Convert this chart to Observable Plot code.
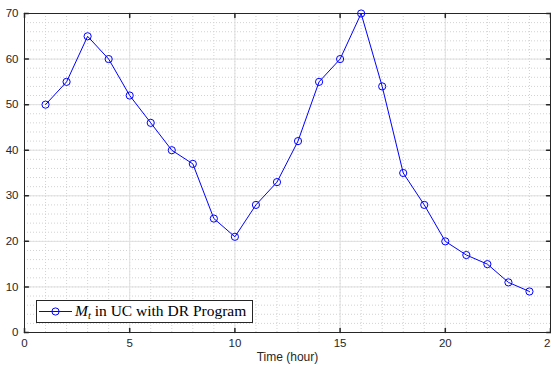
<!DOCTYPE html>
<html>
<head>
<meta charset="utf-8">
<script src="https://cdn.jsdelivr.net/npm/d3@7"></script>
<script src="https://cdn.jsdelivr.net/npm/@observablehq/plot@0.6"></script>
<style>
  html, body { margin: 0; padding: 0; background: white; overflow: hidden; }
  #chart { position: relative; width: 551px; height: 367px; }
</style>
</head>
<body>
<div id="chart"></div>
<script>
const hours = [1,2,3,4,5,6,7,8,9,10,11,12,13,14,15,16,17,18,19,20,21,22,23,24];
const mValues = [50,55,65,60,52,46,40,37,25,21,28,33,42,55,60,70,54,35,28,20,17,15,11,9];
const xTicks = [0,5,10,15,20,25];
const yTicks = [0,10,20,30,40,50,60,70];
const xMinor = d3.range(0, 26, 1);
const yMinor = d3.range(0, 71, 2);
const xLabel = "Time (hour)";
const legendRest = " in UC with DR Program";

const data = hours.map((h, i) => ({h, m: mValues[i]}));
const dark = "#262626";
const blue = "#0000ff";
const tickShape = {draw(ctx, l) { ctx.moveTo(0, 0); ctx.lineTo(0, -l); }};

const plot = Plot.plot({
  width: 551,
  height: 367,
  marginLeft: 24,
  marginRight: 1,
  marginTop: 13,
  marginBottom: 35,
  style: {fontFamily: "'Liberation Sans', Arial, sans-serif", fontSize: "11px", color: dark, background: "white"},
  x: {domain: [0, 25]},
  y: {domain: [0, 70]},
  marks: [
    Plot.gridX(xMinor, {stroke: "#d2d2d2", strokeOpacity: 1, strokeDasharray: "1,2"}),
    Plot.gridY(yMinor, {stroke: "#d2d2d2", strokeOpacity: 1, strokeDasharray: "1,2"}),
    Plot.gridX(xTicks, {stroke: "#e0e0e0", strokeOpacity: 1}),
    Plot.gridY(yTicks, {stroke: "#e0e0e0", strokeOpacity: 1}),
    Plot.frame({stroke: dark}),
    Plot.vector(xTicks, {x: d => d, frameAnchor: "bottom", length: 4, anchor: "start", rotate: 0, shape: tickShape, stroke: dark}),
    Plot.vector(xTicks, {x: d => d, frameAnchor: "top", length: 4, anchor: "start", rotate: 180, shape: tickShape, stroke: dark}),
    Plot.vector(yTicks, {y: d => d, frameAnchor: "left", length: 4, anchor: "start", rotate: 90, shape: tickShape, stroke: dark}),
    Plot.vector(yTicks, {y: d => d, frameAnchor: "right", length: 4, anchor: "start", rotate: -90, shape: tickShape, stroke: dark}),
    Plot.axisX(xTicks, {tickSize: 0, tickPadding: 6, label: null, fill: dark, fontSize: 11.5}),
    Plot.axisX({tickSize: 0, ticks: [], label: xLabel, labelAnchor: "center", labelArrow: "none", labelOffset: 28, fill: dark, fontSize: 12}),
    Plot.axisY(yTicks, {tickSize: 0, tickPadding: 6, label: null, fill: dark, fontSize: 11.5}),
    Plot.line(data, {x: "h", y: "m", stroke: blue, strokeWidth: 1}),
    Plot.dot(data, {x: "h", y: "m", r: 3.6, stroke: blue, strokeWidth: 1, fill: "none"})
  ]
});

document.getElementById("chart").appendChild(plot);

// Legend box
const svg = d3.select(plot);
const g = svg.append("g").attr("text-anchor", "start");
g.append("rect").attr("x", 36.5).attr("y", 300.5).attr("width", 216).attr("height", 22)
  .attr("fill", "white").attr("stroke", dark).attr("stroke-width", 1);
g.append("line").attr("x1", 39).attr("x2", 72).attr("y1", 311.5).attr("y2", 311.5)
  .attr("stroke", blue).attr("stroke-width", 1);
g.append("circle").attr("cx", 55.5).attr("cy", 311.5).attr("r", 3.6)
  .attr("fill", "none").attr("stroke", blue).attr("stroke-width", 1);
const t = g.append("text").attr("x", 75).attr("y", 316).attr("text-anchor", "start")
  .attr("font-family", "'Liberation Serif', 'DejaVu Serif', serif").attr("font-size", "15.5px").attr("fill", "black");
t.append("tspan").attr("font-style", "italic").text("M");
t.append("tspan").attr("font-style", "italic").attr("font-size", "10.5px").attr("dy", 3).text("t");
t.append("tspan").attr("dy", -3).text(legendRest);
</script>
</body>
</html>
